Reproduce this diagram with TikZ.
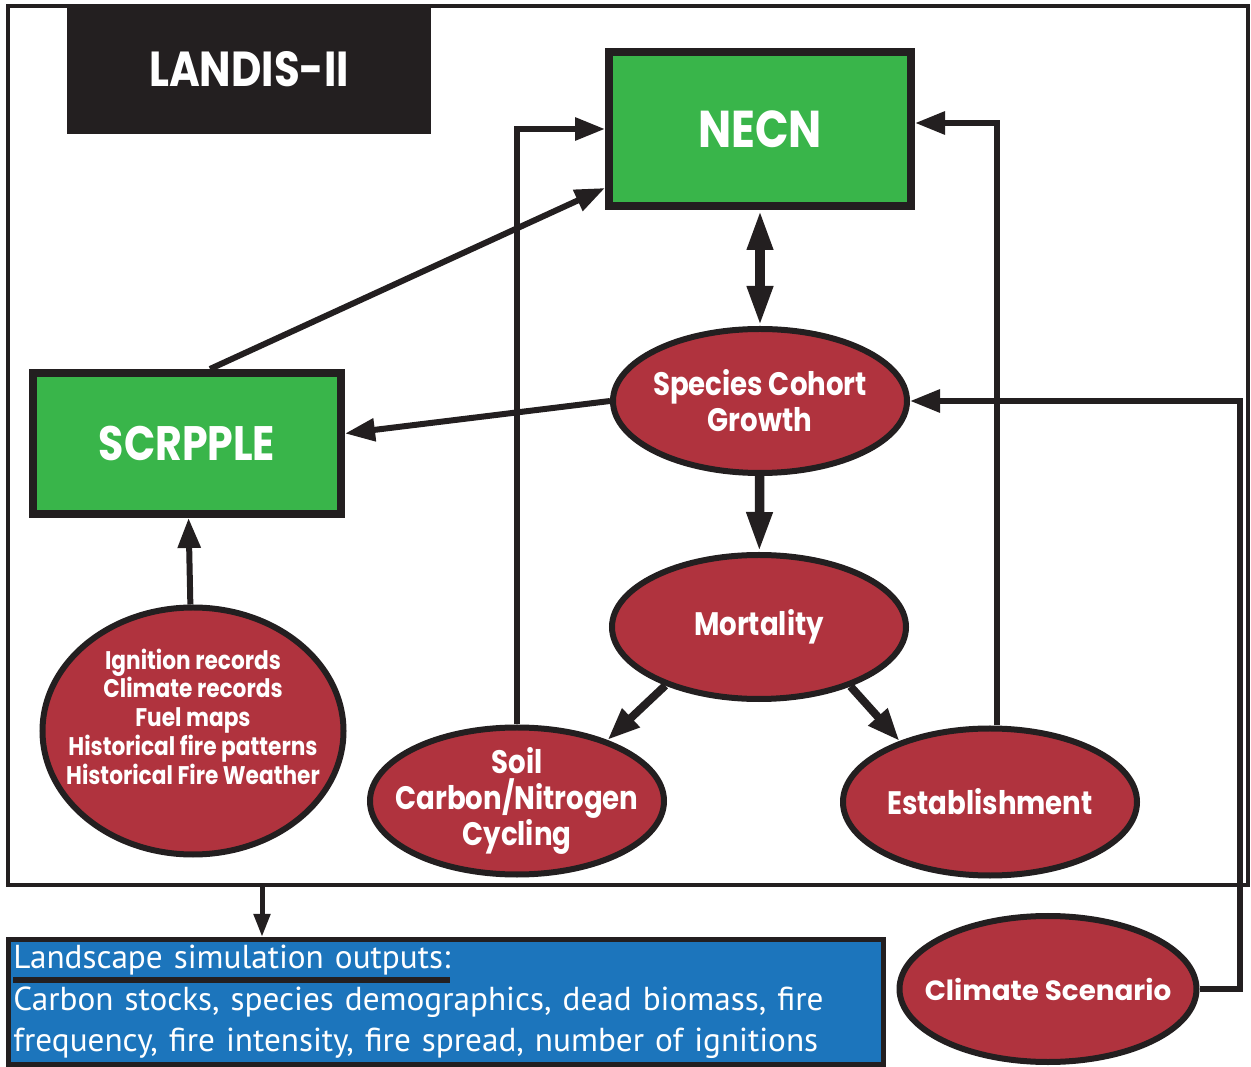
\documentclass[tikz,border=0pt]{standalone}
\usepackage{fontspec}
\usetikzlibrary{arrows.meta,positioning,calc,shapes.geometric}
\newfontfamily\gothic{Poppins}[FakeStretch=0.85]
\newfontfamily\gothicwide{Poppins}
\newfontfamily\myriad{PT Sans}
\definecolor{LD-GREEN}{RGB}{57,181,74}
\definecolor{LD-RED}{RGB}{176,51,62}
\definecolor{LD-BLUE}{RGB}{28,117,188}
\definecolor{LD-BLACK}{RGB}{35,31,32}
\newcommand{\outul}[1]{\setbox0=\hbox{#1}\rlap{\color{LD-BLACK}\rule[-0.43em]{\wd0}{0.19em}}\box0}
\tikzset{
  module/.style={draw=LD-BLACK, fill=LD-GREEN, line width=1.6mm, text=white,
    inner sep=0pt, font=\gothic\bfseries\fontsize{29.5}{36}\selectfont},
  process/.style={ellipse, draw=LD-BLACK, fill=LD-RED, line width=1.2mm, text=white,
    align=center, inner xsep=-6mm, inner ysep=-3mm, minimum width=58.8mm, minimum height=28.8mm,
    font=\gothic\bfseries\fontsize{18.5}{20.4}\selectfont},
  flow/.style={LD-BLACK, line width=1.2mm, -{Triangle[length=6mm,width=4.4mm]}},
  bigflow/.style={LD-BLACK, line width=1.9mm, -{Triangle[length=8mm,width=4.8mm]}}
}

\begin{document}
\begin{tikzpicture}[x=0.2mm, y=-0.2mm]
  \useasboundingbox (0,0) rectangle (1251,1067);

  % LANDIS-II frame
  \draw[LD-BLACK, line width=0.7mm] (8,6) rectangle (1248,885);
  \coordinate (fout) at (262,885);
  \node[fill=LD-BLACK, minimum width=72.8mm, minimum height=25.8mm, text=white,
    font=\gothic\bfseries\fontsize{28}{34}\selectfont] (landis) at (249,69.5) {LANDIS-II};

  % Extensions (green boxes)
  \node[module, minimum width=60.4mm, minimum height=30.8mm] (necn) at (760,129) {NECN};
  \node[module, minimum width=61.6mm, minimum height=28.2mm,
    font=\gothic\bfseries\fontsize{27.5}{34}\selectfont] (scrpple) at (187,443.5) {SCRPPLE};

  % Processes (red ellipses)
  \node[process] (growth) at (760,401) {Species Cohort\\Growth};
  \node[process] (mort) at (759,627) {Mortality};
  \node[process, minimum height=29.4mm] (soil) at (517,801) {Soil\\Carbon/Nitrogen\\Cycling};
  \node[process, minimum height=29.4mm] (estab) at (990,802) {Establishment};
  \node[process, minimum width=60.2mm, minimum height=49.4mm,
    font=\gothic\bfseries\fontsize{14.5}{16.4}\selectfont] (inputs) at (193,731)
    {Ignition records\\Climate records\\Fuel maps\\Historical fire patterns\\Historical Fire Weather\\~};
  \node[process, minimum width=59.4mm, minimum height=29.2mm,
    font=\gothicwide\bfseries\fontsize{15.8}{18}\selectfont] (climate) at (1048,989) {Climate Scenario};
  \coordinate (cbend) at (1240,700);

  % Outputs (blue box)
  \node[draw=LD-BLACK, fill=LD-BLUE, line width=1mm, minimum width=175mm, minimum height=25mm,
    text width=173mm, inner xsep=1mm, align=left, text=white,
    font=\myriad\fontsize{18.9}{23.6}\selectfont] (outputs) at (446,1002)
    {\outul{Landscape simulation outputs:}\\
     Carbon stocks, species demographics, dead biomass, fire\\
     frequency, fire intensity, fire spread, number of ignitions};

  % Connectors
  \draw[bigflow, {Triangle[length=8mm,width=4.8mm]}-{Triangle[length=8mm,width=4.8mm]}] (necn) -- (growth);
  \draw[bigflow] (growth) -- (mort);
  \draw[bigflow, line width=1.6mm, -{Triangle[length=6.5mm,width=4.8mm]}] (mort.212) -- (soil.34);
  \draw[bigflow, line width=1.6mm, -{Triangle[length=6.5mm,width=4.8mm]}] (mort.-33) -- (estab.146);
  \draw[flow] (soil.north) |- (necn.west);
  \draw[flow] ([xshift=1.4mm]estab.north) |- ([yshift=1.2mm]necn.east);
  \draw[flow] ([xshift=4.6mm]scrpple.north) -- ([yshift=-11.8mm]necn.west);
  \draw[flow] (growth.west) -- ([yshift=2mm]scrpple.east);
  \draw[flow] (inputs) -- (scrpple);
  \draw[flow] (climate.east) -| (cbend) |- (growth.east);
  \draw[LD-BLACK, line width=1mm, -{Triangle[length=4.6mm,width=3.2mm]}] (fout) -- (fout |- outputs.north);
\end{tikzpicture}
\end{document}
